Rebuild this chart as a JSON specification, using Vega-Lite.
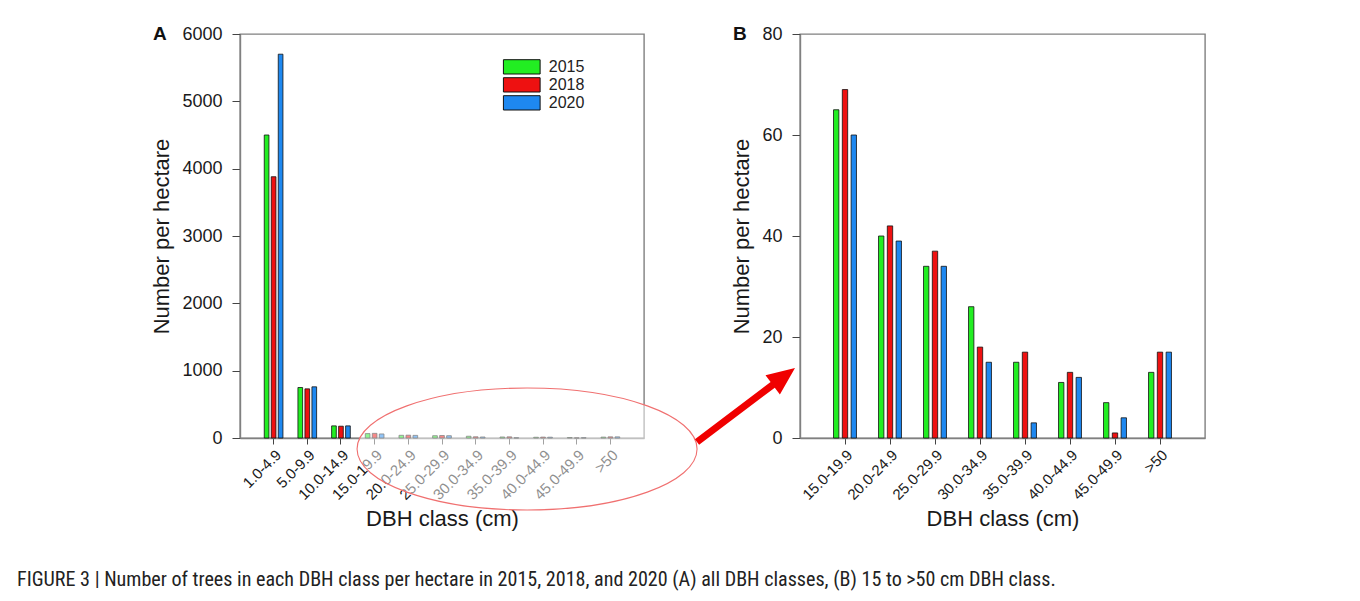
{
  "$schema": "https://vega.github.io/schema/vega-lite/v6.json",
  "padding": {"left": 17, "top": 24, "right": 0, "bottom": 0},
  "background": "white",
  "bounds": "flush",
  "spacing": 156,
  "datasets": {
    "trees": [
      {"dbh": "1.0-4.9", "year": "2015", "n": 4500},
      {"dbh": "1.0-4.9", "year": "2018", "n": 3880},
      {"dbh": "1.0-4.9", "year": "2020", "n": 5700},
      {"dbh": "5.0-9.9", "year": "2015", "n": 750},
      {"dbh": "5.0-9.9", "year": "2018", "n": 730},
      {"dbh": "5.0-9.9", "year": "2020", "n": 760},
      {"dbh": "10.0-14.9", "year": "2015", "n": 180},
      {"dbh": "10.0-14.9", "year": "2018", "n": 175},
      {"dbh": "10.0-14.9", "year": "2020", "n": 180},
      {"dbh": "15.0-19.9", "year": "2015", "n": 65},
      {"dbh": "15.0-19.9", "year": "2018", "n": 69},
      {"dbh": "15.0-19.9", "year": "2020", "n": 60},
      {"dbh": "20.0-24.9", "year": "2015", "n": 40},
      {"dbh": "20.0-24.9", "year": "2018", "n": 42},
      {"dbh": "20.0-24.9", "year": "2020", "n": 39},
      {"dbh": "25.0-29.9", "year": "2015", "n": 34},
      {"dbh": "25.0-29.9", "year": "2018", "n": 37},
      {"dbh": "25.0-29.9", "year": "2020", "n": 34},
      {"dbh": "30.0-34.9", "year": "2015", "n": 26},
      {"dbh": "30.0-34.9", "year": "2018", "n": 18},
      {"dbh": "30.0-34.9", "year": "2020", "n": 15},
      {"dbh": "35.0-39.9", "year": "2015", "n": 15},
      {"dbh": "35.0-39.9", "year": "2018", "n": 17},
      {"dbh": "35.0-39.9", "year": "2020", "n": 3},
      {"dbh": "40.0-44.9", "year": "2015", "n": 11},
      {"dbh": "40.0-44.9", "year": "2018", "n": 13},
      {"dbh": "40.0-44.9", "year": "2020", "n": 12},
      {"dbh": "45.0-49.9", "year": "2015", "n": 7},
      {"dbh": "45.0-49.9", "year": "2018", "n": 1},
      {"dbh": "45.0-49.9", "year": "2020", "n": 4},
      {"dbh": ">50", "year": "2015", "n": 13},
      {"dbh": ">50", "year": "2018", "n": 17},
      {"dbh": ">50", "year": "2020", "n": 17}
    ]
  },
  "title": {
    "text": "FIGURE 3 | Number of trees in each DBH class per hectare in 2015, 2018, and 2020 (A) all DBH classes, (B) 15 to >50 cm DBH class.",
    "orient": "bottom",
    "anchor": "start",
    "frame": "group",
    "dx": -223,
    "offset": 40,
    "baseline": "top",
    "font": "Liberation Sans Narrow, Roboto Condensed, Liberation Sans",
    "fontSize": 20.1,
    "fontWeight": "normal",
    "color": "#222222"
  },
  "resolve": {
    "scale": {"x": "independent", "y": "independent", "color": "independent", "xOffset": "independent"},
    "legend": {"color": "independent"}
  },
  "hconcat": [
    {
      "width": 404,
      "height": 404,
      "title": {"text": "A", "anchor": "start", "frame": "group", "orient": "top", "dx": -87, "dy": 28, "offset": 0, "baseline": "middle", "fontSize": 19, "fontWeight": "bold", "font": "Liberation Sans", "color": "#111111"},
      "layer": [
        {
          "data": {"name": "trees"},
          "mark": {"type": "bar", "stroke": "#111111", "strokeWidth": 0.8},
          "encoding": {
            "x": {
              "field": "dbh", "type": "nominal",
              "scale": {"domain": ["1.0-4.9", "5.0-9.9", "10.0-14.9", "15.0-19.9", "20.0-24.9", "25.0-29.9", "30.0-34.9", "35.0-39.9", "40.0-44.9", "45.0-49.9", ">50"], "paddingInner": 0.445, "paddingOuter": 0.72},
              "axis": {"title": "DBH class (cm)", "labelAngle": -45, "labelFontSize": 15, "tickSize": 6, "labelPadding": 3, "titleFontSize": 22, "titlePadding": 6}
            },
            "xOffset": {"field": "year", "type": "nominal", "scale": {"paddingInner": 0.33, "paddingOuter": 0}},
            "y": {
              "field": "n", "type": "quantitative",
              "scale": {"domain": [0, 6000], "nice": false},
              "axis": {"title": "Number per hectare", "format": "d", "values": [0, 1000, 2000, 3000, 4000, 5000, 6000], "labelFontSize": 18, "tickSize": 8, "labelPadding": 10, "titleFontSize": 22, "titlePadding": 8}
            },
            "color": {
              "field": "year", "type": "nominal",
              "scale": {"domain": ["2015", "2018", "2020"], "range": ["#22ee22", "#ee1111", "#1e88f0"]},
              "legend": {
                "title": null, "orient": "none", "legendX": 260, "legendY": 24,
                "symbolType": "M-1,-1.56H7V1.56H-1Z", "symbolSize": 84.2,
                "symbolStrokeColor": "#111111", "symbolStrokeWidth": 1, "symbolOpacity": 1,
                "labelFontSize": 16, "labelFont": "Liberation Sans", "labelColor": "#222222",
                "labelOffset": 32.8, "rowPadding": 0, "padding": 0, "clipHeight": 17.7,
                "encode": {"symbols": {"update": {"stroke": {"value": "#111111"}, "strokeWidth": {"value": 1}}}}
              }
            }
          }
        },
        {
          "data": {"values": [{}]},
          "mark": {
            "type": "point",
            "shape": "M1.877,0.11 C1.877,0.447 1.116,0.72 0.177,0.72 C-0.762,0.72 -1.523,0.447 -1.523,0.11 C-1.523,-0.227 -0.762,-0.5 0.177,-0.5 C1.116,-0.5 1.877,-0.227 1.877,0.11 Z",
            "size": 40000, "filled": true, "fill": "white", "fillOpacity": 0.5, "opacity": 1,
            "stroke": "#f07070", "strokeWidth": 1.1, "strokeOpacity": 1
          },
          "encoding": {
            "x": {"datum": "35.0-39.9", "type": "nominal"},
            "y": {"datum": 0, "type": "quantitative"}
          }
        }
      ]
    },
    {
      "width": 405,
      "height": 404,
      "title": {"text": "B", "anchor": "start", "frame": "group", "orient": "top", "dx": -67, "dy": 28, "offset": 0, "baseline": "middle", "fontSize": 19, "fontWeight": "bold", "font": "Liberation Sans", "color": "#111111"},
      "layer": [
        {
          "data": {"name": "trees"},
          "transform": [{"filter": {"field": "dbh", "oneOf": ["15.0-19.9", "20.0-24.9", "25.0-29.9", "30.0-34.9", "35.0-39.9", "40.0-44.9", "45.0-49.9", ">50"]}}],
          "mark": {"type": "bar", "stroke": "#111111", "strokeWidth": 0.8},
          "encoding": {
            "x": {
              "field": "dbh", "type": "nominal",
              "scale": {"domain": ["15.0-19.9", "20.0-24.9", "25.0-29.9", "30.0-34.9", "35.0-39.9", "40.0-44.9", "45.0-49.9", ">50"], "paddingInner": 0.49, "paddingOuter": 0.745},
              "axis": {"title": "DBH class (cm)", "labelAngle": -45, "labelFontSize": 15, "tickSize": 6, "labelPadding": 3, "titleFontSize": 22, "titlePadding": 6}
            },
            "xOffset": {"field": "year", "type": "nominal", "scale": {"paddingInner": 0.39, "paddingOuter": 0}},
            "y": {
              "field": "n", "type": "quantitative",
              "scale": {"domain": [0, 80], "nice": false},
              "axis": {"title": "Number per hectare", "format": "d", "values": [0, 20, 40, 60, 80], "labelFontSize": 18, "tickSize": 8, "labelPadding": 10, "titleFontSize": 22, "titlePadding": 8}
            },
            "color": {
              "field": "year", "type": "nominal",
              "scale": {"domain": ["2015", "2018", "2020"], "range": ["#22ee22", "#ee1111", "#1e88f0"]},
              "legend": null
            }
          }
        },
        {
          "data": {"values": [{}]},
          "mark": {
            "type": "point",
            "shape": "M-1.501,0.012 L-0.744,-0.559 L-0.795,-0.627 L-0.5,-0.7 L-0.651,-0.435 L-0.702,-0.503 L-1.459,0.068 Z",
            "size": 40000, "filled": true, "fill": "#f00000", "opacity": 1, "fillOpacity": 1, "strokeWidth": 0
          },
          "encoding": {
            "x": {"datum": "15.0-19.9", "type": "nominal"},
            "y": {"datum": 0, "type": "quantitative"}
          }
        }
      ]
    }
  ],
  "config": {
    "font": "Liberation Sans",
    "view": {"stroke": "#808080", "strokeWidth": 1.4},
    "axis": {
      "labelFont": "Liberation Sans", "titleFont": "Liberation Sans",
      "labelColor": "#1a1a1a", "titleColor": "#1a1a1a", "titleFontWeight": "normal",
      "domainColor": "#808080", "domainWidth": 1.4, "tickColor": "#444444", "grid": false
    }
  }
}
